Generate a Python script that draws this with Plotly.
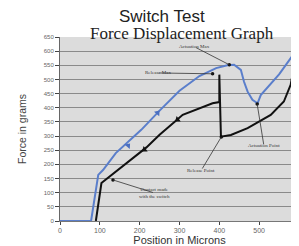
import plotly.graph_objects as go

# Pressing (actuation) curve
press_pos = [0, 78, 96, 108, 140, 175, 204, 250, 300, 350, 392, 420, 437, 454, 462, 471, 483, 496, 504, 550, 598]
press_force = [0, 0, 163, 180, 240, 286, 322, 390, 460, 512, 540, 550, 552, 534, 492, 457, 428, 416, 445, 518, 612]

# Release curve
release_pos = [595, 587, 579, 562, 529, 471, 429, 404, 400, 400, 383, 350, 308, 288, 250, 217, 125, 104, 90]
release_force = [552, 540, 481, 422, 375, 328, 304, 298, 517, 420, 416, 398, 375, 351, 305, 260, 157, 134, 0]

# Direction arrows
press_arrow_pos = [171, 245]
press_arrow_force = [266, 382]
release_arrow_pos = [295, 212]
release_arrow_force = [358, 252]

# Annotations
ann_text = ["Actuation Max", "Release Max", "Actuation Point", "Release Point", "Contact made<br>with the switch"]
ann_pos = [425, 383, 495, 405, 133]
ann_force = [552, 520, 413, 297, 145]
ann_text_pos = [338, 245, 512, 355, 237]
ann_text_force = [615, 523, 265, 180, 99]

y_ticks = list(range(0, 651, 50))
x_ticks = [0, 100, 200, 300, 400, 500, 600]

fig = go.Figure()
fig.add_trace(go.Scatter(x=press_pos, y=press_force, mode="lines",
                         line=dict(color="#5a7ecb", width=2), showlegend=False))
fig.add_trace(go.Scatter(x=release_pos, y=release_force, mode="lines",
                         line=dict(color="#111111", width=2), showlegend=False))
fig.add_trace(go.Scatter(x=press_arrow_pos, y=press_arrow_force, mode="markers",
                         marker=dict(symbol="triangle-up", size=6, color="#4a6ec0", angle=41),
                         showlegend=False))
fig.add_trace(go.Scatter(x=release_arrow_pos, y=release_arrow_force, mode="markers",
                         marker=dict(symbol="triangle-up", size=6, color="#111111", angle=233),
                         showlegend=False))
fig.add_trace(go.Scatter(x=ann_pos, y=ann_force, mode="markers",
                         marker=dict(size=3.5, color="#111111"), showlegend=False))

for t, px, py, tx, ty in zip(ann_text, ann_pos, ann_force, ann_text_pos, ann_text_force):
    fig.add_annotation(x=px, y=py, ax=tx, ay=ty, axref="x", ayref="y",
                       text="", showarrow=True, arrowhead=0, arrowwidth=0.8,
                       arrowcolor="#333333", standoff=0)
    fig.add_annotation(x=tx, y=ty, text=t, showarrow=False,
                       font=dict(family="Liberation Serif", size=5, color="#333333"),
                       bgcolor="rgba(0,0,0,0)")

fig.add_annotation(xref="paper", yref="paper", x=0.427, y=1.0, yshift=21,
                   text="Switch Test", showarrow=False, yanchor="middle",
                   font=dict(family="Liberation Sans", size=17, color="#222222"))
fig.add_annotation(xref="paper", yref="paper", x=0.51, y=1.0, yshift=4,
                   text="Force Displacement Graph", showarrow=False, yanchor="middle",
                   font=dict(family="Liberation Serif", size=17, color="#222222"))

fig.update_layout(
    width=291, height=238,
    margin=dict(l=52, r=0, t=29, b=25),
    paper_bgcolor="white",
    plot_bgcolor="#dcdcdc",
    font=dict(family="Liberation Sans", color="#555555"),
    xaxis=dict(range=[0, 600], tickvals=x_ticks, ticks="outside", ticklen=3,
               tickfont=dict(size=7, color="#666666"), showgrid=False,
               showline=True, linecolor="#777777", zeroline=False,
               title=dict(text="Position in Microns", font=dict(size=11, color="#333333"), standoff=2)),
    yaxis=dict(range=[0, 650], tickvals=y_ticks, ticks="outside", ticklen=4,
               tickfont=dict(size=6, color="#666666"), showgrid=True,
               gridcolor="#8a8a8a", gridwidth=1,
               showline=True, linecolor="#666666", zeroline=False,
               title=dict(text="Force in grams", font=dict(size=10.5, color="#444444"), standoff=15)),
)

fig.write_html("out.html")
